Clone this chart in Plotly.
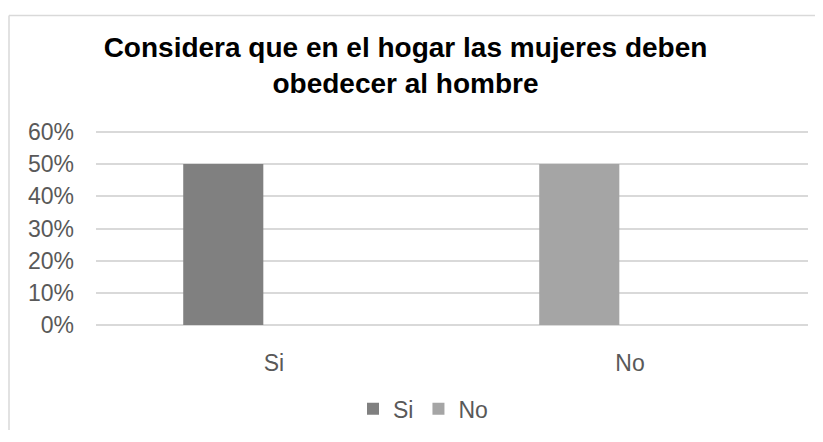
import plotly.graph_objects as go

categories = ["Si", "No"]
series_names = ["Si", "No"]
series_values = [[0.5, None], [None, 0.5]]
colors = ["#808080", "#A5A5A5"]
y_ticks = [0, 0.1, 0.2, 0.3, 0.4, 0.5, 0.6]
y_tick_labels = ["0%", "10%", "20%", "30%", "40%", "50%", "60%"]
title = "Considera que en el hogar las mujeres deben<br>obedecer al hombre"

# page body has an 8px margin, so the figure is drawn 8px smaller
W, H = 815, 434
plot_top, plot_bottom = 124, 325          # pixel rows of 60% and 0%
pad_px = 3                                 # keep edge gridlines inside the plot
unit_px = (plot_bottom - plot_top) / (y_ticks[-1] - y_ticks[0])
ext = pad_px / unit_px
ml, mr = 88, 15
mt, mb = plot_top - pad_px, H - plot_bottom - pad_px
pw, ph = W - ml - mr, H - mt - mb

def px_x(p):
    return (p - ml) / pw

def px_y(p):
    return (H - mb - p) / ph

fig = go.Figure()
for name, vals, col in zip(series_names, series_values, colors):
    fig.add_trace(go.Bar(
        name=name, x=categories, y=vals, marker=dict(color=col, line=dict(width=0)),
        width=0.225, offset=-0.255,
    ))

fig.update_layout(
    width=W, height=H,
    margin=dict(l=ml, r=mr, t=mt, b=mb, pad=0),
    paper_bgcolor="white", plot_bgcolor="white",
    barmode="overlay",
    font=dict(family="Liberation Sans, Arial, sans-serif", color="#595959"),
    title=dict(
        text="<b>" + title + "</b>",
        x=397.5 / W, xanchor="center", xref="container", y=1 - 49 / H, yanchor="top", yref="container",
        font=dict(size=28, color="#000000", family="Liberation Sans, Arial, sans-serif"),
    ),
    xaxis=dict(
        type="category", showgrid=False, zeroline=False, showline=False,
        ticks="", tickfont=dict(size=23, color="#595959"), range=[-0.5, 1.5],
        ticklabelstandoff=16 + pad_px,
    ),
    yaxis=dict(
        range=[y_ticks[0] - ext, y_ticks[-1] + ext], tickvals=y_ticks, ticktext=y_tick_labels,
        showgrid=True, gridcolor="#D9D9D9", gridwidth=1.5,
        zeroline=True, zerolinecolor="#D9D9D9", zerolinewidth=1.5,
        showline=False, ticks="", tickfont=dict(size=23, color="#595959"),
        ticklabelstandoff=21,
    ),
    legend=dict(
        orientation="h", x=px_x(415), xanchor="center", y=px_y(412), yanchor="middle",
        font=dict(size=23, color="#595959"), itemwidth=30, bgcolor="rgba(0,0,0,0)",
    ),
    showlegend=True,
    shapes=[
        dict(type="line", xref="paper", yref="paper", x0=px_x(1), x1=px_x(W), y0=px_y(3), y1=px_y(3),
             line=dict(color="#D9D9D9", width=1.5)),
        dict(type="line", xref="paper", yref="paper", x0=px_x(1), x1=px_x(1), y0=px_y(3), y1=px_y(H),
             line=dict(color="#D9D9D9", width=1.5)),
    ],
)

fig.write_html("out.html")
